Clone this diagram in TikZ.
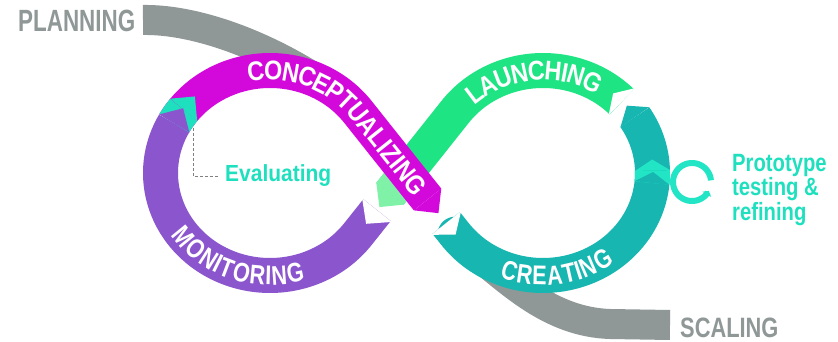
\documentclass[tikz,border=0pt]{standalone}
\usepackage{fontspec}
\usetikzlibrary{calc,decorations.text,arrows.meta}
\newfontfamily\fPlan{Liberation Sans}[FakeStretch=0.73]
\newfontfamily\fScal{Liberation Sans}[FakeStretch=0.78]
\newfontfamily\fProto{Liberation Sans}[FakeStretch=0.81]
\newfontfamily\fEval{Liberation Sans}[FakeStretch=0.9]
\newfontfamily\fBandA{Liberation Sans}[FakeStretch=0.8]
\newfontfamily\fBandB{Liberation Sans}[FakeStretch=0.87]
\newcommand\bandfontA{\fBandA\bfseries\fontsize{27}{27}\selectfont}
\newcommand\bandfontB{\fBandB\bfseries\fontsize{27}{27}\selectfont}
\definecolor{cGray}{HTML}{8F9897}
\definecolor{cMag}{HTML}{D309DB}
\definecolor{cPurple}{HTML}{8B55CE}
\definecolor{cGreen}{HTML}{1EE483}
\definecolor{cLGreen}{HTML}{80F2A8}
\definecolor{cTeal}{HTML}{17B6B1}
\definecolor{cBTeal}{HTML}{1FE0BE}
\definecolor{cLTeal}{HTML}{22E5C5}
% point helpers (pixel coordinates, y downwards)
\newcommand\mkpt[5]{%
  \coordinate (#1) at (#2,#3);%
  \pgfmathsetmacro\qL{#4+90}\pgfmathsetmacro\qR{#4-90}%
  \coordinate (#1-a) at ($(#1)+(\qL:17.5)$);%
  \coordinate (#1-b) at ($(#1)+(\qR:17.5)$);%
  \coordinate (#1-A) at ($(#1)+(\qL:19)$);%
  \coordinate (#1-B) at ($(#1)+(\qR:19)$);%
  \coordinate (#1-f) at ($(#1)+(#4:#5)$);%
}
\newcommand\ellpt[5]{%
  \pgfmathsetmacro\qX{#2+109.5*cos(#3)}%
  \pgfmathsetmacro\qY{173+102.5*sin(#3)}%
  \pgfmathsetmacro\qA{atan2((#4)*102.5*cos(#3),-(#4)*109.5*sin(#3))}%
  \mkpt{#1}{\qX}{\qY}{\qA}{#5}%
}
\newcommand\linpt[7]{%
  \pgfmathsetmacro\qX{#2+#6*#4}%
  \pgfmathsetmacro\qY{#3+#6*#5}%
  \pgfmathsetmacro\qA{atan2(#5,#4)}%
  \mkpt{#1}{\qX}{\qY}{\qA}{#7}%
}
\tikzset{
  band/.style={line width=35pt, line cap=butt, line join=round},
  graybd/.style={line width=30pt, line cap=butt, draw=cGray},
  bandtext/.style={decorate, decoration={text along path, text align=center,
     raise=-9.6pt, text color=white, text={|\bandfontA|#1}}},
  bandtextB/.style={decorate, decoration={text along path, text align=center,
     raise=-9.6pt, text color=white, text={|\bandfontB|#1}}},
  lbl/.style={anchor=base west, inner sep=0pt},
}
\begin{document}
\begin{tikzpicture}[x=1pt,y=-1pt]
\fill[white] (0,0) rectangle (838,342);
\useasboundingbox (0,0) rectangle (838,342);
% key points
\coordinate (TLu) at (357.84,111.8);
\coordinate (TLd) at (357.84,234.2);
\coordinate (TRu) at (455.16,111.8);
\coordinate (TRd) at (455.16,234.2);
\linpt{ptail}{455.16}{111.8}{-0.62237}{0.78275}{125.6}{17.5}
\linpt{ghead}{455.16}{111.8}{-0.62237}{0.78275}{104.7}{17}
\linpt{gmid}{455.16}{111.8}{-0.62237}{0.78275}{78}{0}
\linpt{mhead}{357.84}{111.8}{0.62237}{0.78275}{112}{17.5}
\linpt{ttail}{357.84}{111.8}{0.62237}{0.78275}{142}{15}
\linpt{ctxt}{357.84}{111.8}{0.62237}{0.78275}{118}{0}
\ellpt{sstart}{543}{130}{-1}{0}
\ellpt{phead}{270}{209}{1}{17.5}
\ellpt{chev}{270}{218}{1}{17.5}
\ellpt{thead}{543}{-33}{-1}{14}
\ellpt{gtail}{543}{-44}{-1}{12}
\ellpt{lcf}{543}{-1.4}{-1}{11}
\ellpt{lcb}{543}{5.6}{-1}{11}
\coordinate (plan0) at (143,20);
\coordinate (planE) at (351,104);
\coordinate (scal0) at (670,325);
% gray bands
\draw[graybd] (plan0) .. controls (205,19) and (290,55) .. (planE);
\draw[graybd] (sstart) .. controls (510,281) and (550,322) .. (610,324) -- (scal0);
% purple (monitoring)
\draw[band,cPurple] (ptail) -- (TLd) -- plot[domain=36.65:209,samples=90] ({270+109.5*cos(\x)},{173+102.5*sin(\x)});
\fill[white] (ptail-A) -- (ptail-f) -- (ptail-B) -- cycle;
% green (launching)
\draw[band,cGreen] plot[domain=-44:-143.35,samples=90] ({543+109.5*cos(\x)},{173+102.5*sin(\x)}) -- (ghead);
\draw[band,cLGreen] (gmid) -- (ghead);
\fill[cLGreen] (ghead-a) -- (ghead-f) -- (ghead-b) -- cycle;
\fill[white] (gtail-A) -- (gtail-f) -- (gtail-B) -- cycle;
% teal (creating)
\draw[band,cTeal] (ttail) -- (TRd) -- plot[domain=143.35:-33,samples=100] ({543+109.5*cos(\x)},{173+102.5*sin(\x)});
\fill[cTeal] (thead-a) -- (thead-f) -- (thead-b) -- cycle;
\fill[white] (ttail-A) -- (ttail-f) -- (ttail-B) -- cycle;
% light chevron on the right
\draw[band,cLTeal] plot[domain=5.6:-1.4,samples=8] ({543+109.5*cos(\x)},{173+102.5*sin(\x)});
\fill[cLTeal] (lcf-a) -- (lcf-f) -- (lcf-b) -- cycle;
\fill[cTeal] (lcb-a) -- (lcb-f) -- (lcb-b) -- cycle;
% ring
\draw[cLTeal, line width=6pt, -{Triangle[length=4pt,width=10pt]}] plot[domain=355:28,samples=60] ({692+19*cos(\x)},{182+19*sin(\x)});
% magenta (conceptualizing)
\draw[band,cMag] plot[domain=209:323.35,samples=90] ({270+109.5*cos(\x)},{173+102.5*sin(\x)}) -- (mhead);
\fill[cMag] (mhead-a) -- (mhead-f) -- (mhead-b) -- cycle;
% evaluating chevron
\draw[band,cBTeal] plot[domain=209:218,samples=6] ({270+109.5*cos(\x)},{173+102.5*sin(\x)});
\fill[cBTeal] (chev-a) -- (chev-f) -- (chev-b) -- cycle;
\fill[cPurple] (phead-a) -- (phead-f) -- (phead-b) -- cycle;
% band texts
\path[bandtextB=CONCEPTUALIZING] plot[domain=250:323.35,samples=60] ({270+109.5*cos(\x)},{173+102.5*sin(\x)}) -- (ctxt);
\path[bandtextB=LAUNCHING] plot[domain=-150:-41,samples=60] ({543+109.5*cos(\x)},{173+102.5*sin(\x)});
\path[bandtext=CREATING] plot[domain=137:27,samples=60] ({543+109.5*cos(\x)},{173+102.5*sin(\x)});
\path[bandtext=MONITORING] plot[domain=170:50,samples=60] ({270+109.5*cos(\x)},{173+102.5*sin(\x)});
% labels
\node[lbl, text=cGray, font=\fPlan\bfseries\fontsize{30.7}{31}\selectfont] (plan) at (18,32) {PLANNING};
\node[lbl, text=cGray, font=\fScal\bfseries\fontsize{28}{28}\selectfont] (scal) at (680,337.5) {SCALING};
\node[lbl, text=cBTeal, font=\fEval\bfseries\fontsize{23.3}{24}\selectfont] (eval) at (225,182) {Evaluating};
\node[anchor=north west, inner sep=0pt, align=left, text=cBTeal, font=\fProto\bfseries\fontsize{25}{20.5}\selectfont] (proto) at (732,154) {Prototype\\testing \&\\refining};
\coordinate (evtop) at (193,128);
\draw[gray, line width=0.7pt, dash pattern=on 3pt off 2pt] (evtop) |- ($(eval.west)+(-7,0)$);
\end{tikzpicture}
\end{document}
